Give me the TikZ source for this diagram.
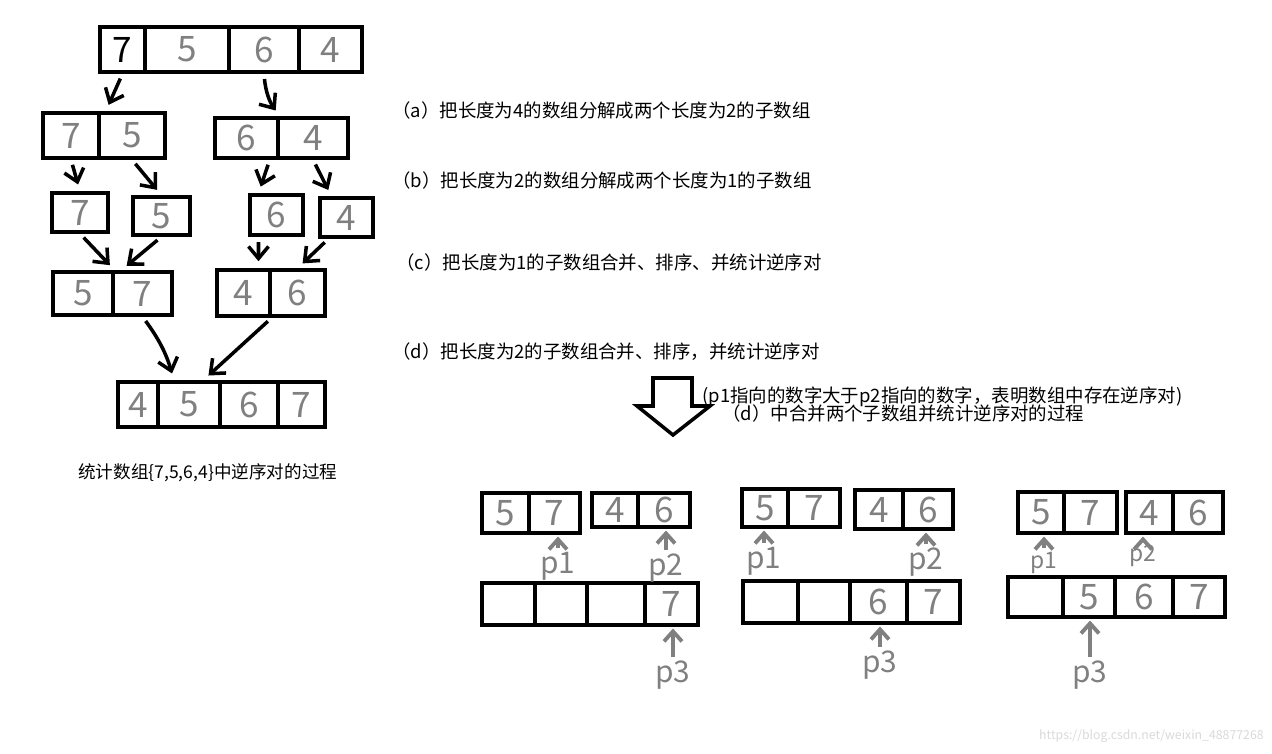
\documentclass[tikz,border=0pt]{standalone}
\usepackage{fontspec}
\setmainfont{Noto Sans CJK SC}
\usepackage{tikz}
\usetikzlibrary{arrows.meta}
\definecolor{handgray}{RGB}{128,128,128}

\begin{document}
\begin{tikzpicture}[
x=0.02cm, y=-0.02cm,
cell/.style={draw, line width=2pt, inner sep=0pt, text=handgray, font=\fontsize{20}{20}\selectfont},
hand/.style={-{Straight Barb[length=2.4mm,width=4mm]}, line width=2pt, shorten <=3pt, shorten >=4pt},
ptr/.style={-{Straight Barb[length=2mm,width=3.6mm]}, line width=2.2pt, handgray, shorten <=1pt, shorten >=1pt},
plabel/.style={text=handgray, font=\fontsize{17}{17}\selectfont, inner sep=1pt},
note/.style={anchor=west, inner sep=0pt, font=\fontsize{10.5}{12}\selectfont}
]
\useasboundingbox (0,0) rectangle (1272,754);

% array {7,5,6,4}
\node[cell, text=black, minimum width=0.9cm, minimum height=0.9cm] (t1) at (122.5,49.5) {7};
\node[cell, minimum width=1.68cm, minimum height=0.9cm] (t2) at (187,49.5) {5};
\node[cell, minimum width=1.4cm, minimum height=0.9cm] (t3) at (264,49.5) {6};
\node[cell, minimum width=1.26cm, minimum height=0.9cm] (t4) at (330.5,49.5) {4};

% split into length 2
\node[cell, minimum width=1.12cm, minimum height=0.9cm] (la1) at (71,135.5) {7};
\node[cell, minimum width=1.32cm, minimum height=0.9cm] (la2) at (132,135.5) {5};
\node[cell, minimum width=1.26cm, minimum height=0.8cm] (lb1) at (246.5,138) {6};
\node[cell, minimum width=1.4cm, minimum height=0.8cm] (lb2) at (313,138) {4};

% split into length 1
\node[cell, minimum width=1.12cm, minimum height=0.78cm] (c1) at (80,212.5) {7};
\node[cell, minimum width=1.14cm, minimum height=0.76cm] (c2) at (161.5,216) {5};
\node[cell, minimum width=1.06cm, minimum height=0.8cm] (c3) at (276.5,215) {6};
\node[cell, minimum width=1.06cm, minimum height=0.78cm] (c4) at (346.5,217.5) {4};

% merged length 2
\node[cell, minimum width=1.2cm, minimum height=0.86cm] (ma1) at (83,293.5) {5};
\node[cell, minimum width=1.18cm, minimum height=0.86cm] (ma2) at (142.5,293.5) {7};
\node[cell, minimum width=1.06cm, minimum height=0.92cm] (mb1) at (243.5,293) {4};
\node[cell, minimum width=1.1cm, minimum height=0.92cm] (mb2) at (297.5,293) {6};

% merged length 4
\node[cell, minimum width=0.8cm, minimum height=0.9cm] (r1) at (138,404.5) {4};
\node[cell, minimum width=1.24cm, minimum height=0.9cm] (r2) at (189,404.5) {5};
\node[cell, minimum width=1.16cm, minimum height=0.9cm] (r3) at (249,404.5) {6};
\node[cell, minimum width=0.94cm, minimum height=0.9cm] (r4) at (301.5,404.5) {7};

\draw[hand] (t1.south) -- ([xshift=0.1cm]la1.north east);
\draw[hand] (t3.south) to[bend right=15] (lb1.north east);
\draw[hand] (la1.south) -- (c1.north);
\draw[hand] (la2.south) -- (c2.north);
\draw[hand] ([xshift=-0.2cm]lb1.south east) -- ([xshift=-0.36cm]c3.north);
\draw[hand] (lb2.south) -- ([xshift=-0.3cm]c4.north);
\draw[hand] (c1.south) -- (ma1.north east);
\draw[hand] (c2.south) -- ([xshift=0.2cm]ma2.north west);
\draw[hand] ([xshift=-0.36cm]c3.south) -- ([xshift=0.3cm]mb1.north);
\draw[hand] ([xshift=-0.36cm]c4.south) -- (mb2.north);
\draw[hand] (ma2.south) to[bend left=10] ([xshift=-0.3cm]r2.north);
\draw[hand] (mb1.south east) -- ([xshift=-0.3cm]r3.north west);

\node[anchor=west, inner sep=0pt, font=\fontsize{10}{12}\selectfont] (cap) at (78,473) {统计数组\{7,5,6,4\}中逆序对的过程};

% steps
\node[note] (sa) at (392,110) {（a）把长度为4的数组分解成两个长度为2的子数组};
\node[note] (sb) at (392,180) {（b）把长度为2的数组分解成两个长度为1的子数组};
\node[note] (sc) at (396,262) {（c）把长度为1的子数组合并、排序、并统计逆序对};
\node[note] (sd) at (392,352) {（d）把长度为2的子数组合并、排序，并统计逆序对};

% hollow arrow
\draw[line width=2pt] (653,378) -- (692,378) -- (692,406) -- (710,406) -- (673,435) -- (637,406) -- (653,406) -- cycle;
\node[note] (why) at (702,397) {(p1指向的数字大于p2指向的数字，表明数组中存在逆序对)};
\node[note] (sub) at (722,413) {（d）中合并两个子数组并统计逆序对的过程};

% first compare
\node[cell, minimum width=0.94cm, minimum height=0.8cm] (xa1) at (505.5,513) {5};
\node[cell, minimum width=1.02cm, minimum height=0.8cm] (xa2) at (554.5,513) {7};
\node[cell, minimum width=0.92cm, minimum height=0.68cm] (xb1) at (615,510) {4};
\node[cell, minimum width=1.04cm, minimum height=0.68cm] (xb2) at (664,510) {6};
\node[cell, minimum width=1.06cm, minimum height=0.84cm] (xl1) at (508.5,604) {};
\node[cell, minimum width=1.04cm, minimum height=0.84cm] (xl2) at (561,604) {};
\node[cell, minimum width=1.16cm, minimum height=0.84cm] (xl3) at (616,604) {};
\node[cell, minimum width=1.06cm, minimum height=0.84cm] (xl4) at (671.5,604) {7};
\node[plabel] (xp1) at (558,566) {p1};
\node[plabel] (xp2) at (666,568) {p2};
\node[plabel] (xp3) at (673,675) {p3};
\draw[ptr] (xp1) -- (xp1 |- xa2.south);
\draw[ptr] (xp2) -- (xp2 |- xb2.south);
\draw[ptr] (xp3) -- (xp3 |- xl4.south);

% second compare
\node[cell, minimum width=0.92cm, minimum height=0.76cm] (ya1) at (765,508) {5};
\node[cell, minimum width=1.04cm, minimum height=0.76cm] (ya2) at (814,508) {7};
\node[cell, minimum width=0.96cm, minimum height=0.78cm] (yb1) at (879,509.5) {4};
\node[cell, minimum width=1cm, minimum height=0.78cm] (yb2) at (928,509.5) {6};
\node[cell, minimum width=1.1cm, minimum height=0.84cm] (yl1) at (770.5,602) {};
\node[cell, minimum width=1.04cm, minimum height=0.84cm] (yl2) at (824,602) {};
\node[cell, minimum width=1.14cm, minimum height=0.84cm] (yl3) at (878.5,602) {6};
\node[cell, minimum width=1.06cm, minimum height=0.84cm] (yl4) at (933.5,602) {7};
\node[plabel] (yp1) at (764,561) {p1};
\node[plabel] (yp2) at (926,562) {p2};
\node[plabel] (yp3) at (880,665) {p3};
\draw[ptr] (yp1) -- (yp1 |- ya1.south);
\draw[ptr] (yp2) -- (yp2 |- yb2.south);
\draw[ptr] (yp3) -- (yp3 |- yl3.south);

% third compare
\node[cell, minimum width=0.92cm, minimum height=0.82cm] (za1) at (1041,512.5) {5};
\node[cell, minimum width=1.06cm, minimum height=0.82cm] (za2) at (1090.5,512.5) {7};
\node[cell, minimum width=0.94cm, minimum height=0.82cm] (zb1) at (1149.5,512.5) {4};
\node[cell, minimum width=1cm, minimum height=0.82cm] (zb2) at (1198,512.5) {6};
\node[cell, minimum width=1.1cm, minimum height=0.8cm] (zl1) at (1035.5,597) {};
\node[cell, minimum width=1.04cm, minimum height=0.8cm] (zl2) at (1089,597) {5};
\node[cell, minimum width=1.16cm, minimum height=0.8cm] (zl3) at (1144,597) {6};
\node[cell, minimum width=1.04cm, minimum height=0.8cm] (zl4) at (1199,597) {7};
\node[plabel, font=\fontsize{13}{13}\selectfont] (zp1) at (1044,563) {p1};
\node[plabel, font=\fontsize{13}{13}\selectfont] (zp2) at (1143,556) {p2};
\node[plabel] (zp3) at (1090,675) {p3};
\draw[ptr] (zp1) -- (zp1 |- za1.south);
\draw[ptr] (zp2) -- (zp2 |- zb1.south);
\draw[ptr] (zp3) -- (zp3 |- zl2.south);

\node[anchor=east, inner sep=0pt, text=gray!30, font=\fontsize{7}{8}\selectfont] (mark) at (1264,736) {https://blog.csdn.net/weixin\_48877268};
\end{tikzpicture}
\end{document}
